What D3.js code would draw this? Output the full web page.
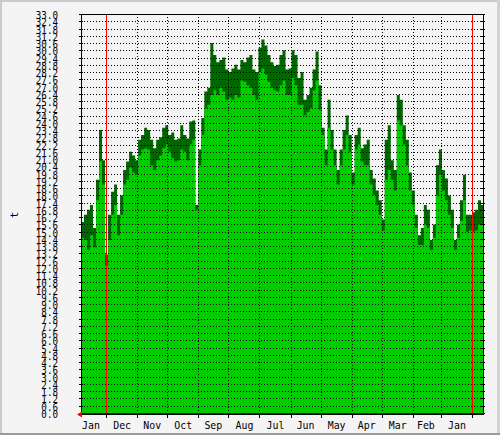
<!DOCTYPE html>
<html><head><meta charset="utf-8">
<script src="https://cdn.jsdelivr.net/npm/d3@7"></script>
<style>body{margin:0;background:#fff}svg{display:block}text{font-family:"DejaVu Sans Mono",monospace;fill:#000}</style>
</head><body><script>
// Values are listed newest first (left of the chart) going back in time, one value per 3 days.
const newestDate = new Date(2012, 0, 26);
const oldestDate = new Date(2010, 11, 21);
const stepDays = 3;
const maxVals = [
15.8,16.4,16.8,17.2,15.3,19.3,23.4,20.9,13.1,16.4,18.3,18.9,16.4,18.0,20.1,20.8,21.6,21.3,20.9,22.6,
23.0,23.6,23.4,22.6,21.9,22.6,22.8,23.6,23.8,23.0,23.2,22.6,22.7,23.8,23.0,22.7,24.1,24.2,17.2,21.8,
24.4,26.6,26.9,30.6,29.6,29.0,29.2,29.4,28.4,28.2,28.5,28.8,28.4,29.2,29.0,29.4,29.6,28.4,28.2,30.2,
30.9,30.4,29.6,29.0,28.7,28.8,29.6,30.0,28.4,28.5,30.0,29.6,27.7,28.2,25.9,26.3,26.9,28.4,29.9,27.1,
23.6,21.8,25.9,23.4,21.8,20.1,21.8,23.4,24.6,23.0,19.9,23.0,23.6,21.9,22.2,22.6,20.1,19.4,18.4,17.6,
16.0,22.6,23.8,20.9,20.1,26.3,25.9,23.8,22.6,19.9,18.4,16.4,14.7,15.3,17.2,16.8,14.3,15.6,20.5,21.8,
20.1,19.4,18.0,16.8,14.3,15.6,17.6,19.7,16.4,16.4,16.6,16.8,17.6,17.2];
const avgVals = [
14.5,14.3,13.5,14.7,13.7,17.6,20.8,18.9,12.2,14.3,16.4,17.2,14.7,16.4,18.9,19.3,20.3,19.9,19.7,21.3,
21.8,21.9,21.8,20.5,20.1,20.9,21.3,21.9,22.2,21.6,21.1,20.8,20.9,21.8,21.6,20.9,22.2,22.6,16.8,20.5,
23.0,25.2,25.5,26.3,26.7,26.3,26.9,26.6,25.9,26.1,25.9,26.3,26.1,27.5,27.4,27.1,26.9,26.3,25.9,28.2,
28.5,28.0,27.4,26.9,26.7,26.6,27.1,27.5,26.3,26.3,27.7,27.1,25.5,25.5,24.6,24.9,25.2,26.7,27.5,25.1,
23.0,20.5,23.6,21.8,20.5,18.9,20.5,21.8,23.0,21.6,18.9,21.8,22.2,20.8,20.5,20.5,18.9,18.0,17.2,16.4,
15.1,19.3,20.1,19.3,18.4,24.2,23.8,22.2,20.5,18.4,17.2,15.3,13.9,13.9,15.6,15.3,13.5,14.5,18.0,19.7,
18.4,17.6,16.4,15.3,13.5,14.5,15.9,17.6,15.0,15.1,15.0,15.1,15.6,15.6];
const yMax = 33.0, yStep = 0.6;
const yLabel = "t";

const W = 500, H = 435;
const L = 81, R = 483, T = 14, B = 413;
const svg = d3.select("body").append("svg").attr("width", W).attr("height", H);

// background & frame
svg.append("rect").attr("width", W).attr("height", H).attr("fill", "#F4F4F4");
svg.append("rect").attr("x",0).attr("y",0).attr("width",W).attr("height",2).attr("fill","#CBCBCB");
svg.append("rect").attr("x",0).attr("y",0).attr("width",2).attr("height",H).attr("fill","#CBCBCB");
svg.append("rect").attr("x",W-3).attr("y",0).attr("width",3).attr("height",H).attr("fill","#D2D2D2");
svg.append("rect").attr("x",0).attr("y",H-2).attr("width",W).attr("height",2).attr("fill","#9A9A9A");

const x = d3.scaleTime().domain([newestDate, oldestDate]).range([L, R]);
const y = d3.scaleLinear().domain([0, yMax]).range([B, T]);

const day = 864e5;
const pts = maxVals.map((v, i) => ({d: new Date(newestDate.getTime() - i*stepDays*day), mx: v, av: avgVals[i]}));
pts.push({d: new Date(newestDate.getTime() - maxVals.length*stepDays*day), mx: maxVals[maxVals.length-1], av: avgVals[avgVals.length-1]});

svg.append("clipPath").attr("id","clip").append("rect").attr("x",L).attr("y",T).attr("width",R-L).attr("height",B-T);
const g = svg.append("g").attr("clip-path","url(#clip)");
g.append("path").datum(pts).attr("fill","#006600")
  .attr("d", d3.area().curve(d3.curveStepAfter).x(p=>x(p.d)).y0(y(0)).y1(p=>y(p.mx)));
g.append("path").datum(pts).attr("fill","#00CC00")
  .attr("d", d3.area().curve(d3.curveStepAfter).x(p=>x(p.d)).y0(y(0)).y1(p=>y(p.av)));

// horizontal grid + ticks
const nT = Math.round(yMax / yStep);
const yTicks = d3.range(0, nT + 1).map(i => +(i * yStep).toFixed(1));
const grid = svg.append("g").attr("shape-rendering","crispEdges");
yTicks.forEach(v => {
  const yy = Math.round(y(v)) + 0.5;
  if (v > 0 && v < yMax) grid.append("line").attr("x1",L).attr("x2",R).attr("y1",yy).attr("y2",yy)
     .attr("stroke","#000").attr("stroke-dasharray","1,2");
  grid.append("line").attr("x1",L-2).attr("x2",L+2).attr("y1",yy).attr("y2",yy).attr("stroke","#000");
  grid.append("line").attr("x1",R-2).attr("x2",R+2).attr("y1",yy).attr("y2",yy).attr("stroke","#000");
  svg.append("text").attr("transform",`translate(58,${yy+4.5}) scale(0.84,1)`)
     .attr("text-anchor","end").attr("font-size",11).text(v.toFixed(1));
});

// vertical month grid
const months = d3.timeMonth.range(d3.timeMonth.ceil(oldestDate), newestDate);
months.forEach(m => {
  const xx = Math.round(x(m)) + 0.5;
  if (m.getMonth() === 0) {
    svg.append("line").attr("x1",xx).attr("x2",xx).attr("y1",T).attr("y2",B).attr("stroke","#FF0000").attr("shape-rendering","crispEdges");
  } else {
    grid.append("line").attr("x1",xx).attr("x2",xx).attr("y1",T).attr("y2",B).attr("stroke","#000").attr("stroke-dasharray","1,2");
  }
  grid.append("line").attr("x1",xx).attr("x2",xx).attr("y1",B+1).attr("y2",B+5).attr("stroke","#000");
});
const fmt = d3.timeFormat("%b");
d3.timeMonth.range(d3.timeMonth.floor(oldestDate), newestDate).forEach(m => {
  const mid = new Date(m.getFullYear(), m.getMonth(), 16);
  const xx = x(mid);
  if (xx > L && xx < R - 5) {
    svg.append("text").attr("transform",`translate(${xx},429) scale(0.9,1)`).attr("text-anchor","middle")
      .attr("font-size",11).text(fmt(m));
  }
});

// axes frame
const ax = svg.append("g").attr("shape-rendering","crispEdges");
ax.append("line").attr("x1",L).attr("x2",R+1).attr("y1",T+0.5).attr("y2",T+0.5).attr("stroke","#000");
ax.append("line").attr("x1",L+0.5).attr("x2",L+0.5).attr("y1",T).attr("y2",B+1).attr("stroke","#000");
ax.append("line").attr("x1",R+0.5).attr("x2",R+0.5).attr("y1",T).attr("y2",B+1).attr("stroke","#000");
ax.append("line").attr("x1",L).attr("x2",R+1).attr("y1",B+1.5).attr("y2",B+1.5).attr("stroke","#000");
ax.append("line").attr("x1",L).attr("x2",R+1).attr("y1",B+0.5).attr("y2",B+0.5).attr("stroke","#0000FF");
svg.append("path").attr("d",`M${L-4},${B+1.5}L${L+1},${B-1.5}L${L+1},${B+4.5}Z`).attr("fill","#FF0000");

// y label
svg.append("text").attr("transform","translate(18,215) rotate(-90)").attr("text-anchor","middle")
  .attr("font-size",11).text(yLabel);
</script></body></html>
